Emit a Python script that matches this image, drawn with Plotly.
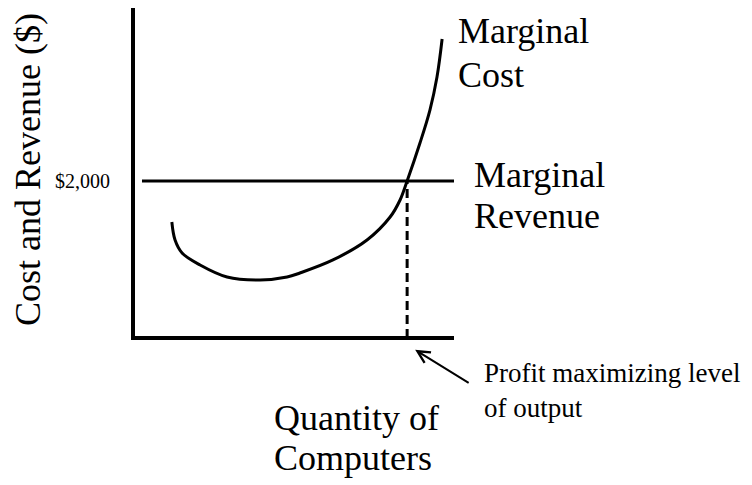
import plotly.graph_objects as go

# marginal cost curve (quantity, $)
mc_quantity = [12.1, 13.1, 15.3, 20.9, 29.3, 39.6, 48.0, 52.0, 62.3, 72.9,
               80.1, 83.2, 85.4, 89.4, 92.5, 94.7, 96.3]
mc_cost = [1478, 1248, 1083, 930, 777, 739, 777, 828, 994, 1248,
           1541, 1758, 2000, 2484, 2904, 3325, 3809]

# marginal revenue (flat price)
mr_quantity = [2.8, 100]
mr_price = [2000, 2000]

# profit maximizing output where MR = MC
q_star = 85.4
p_star = 2000

# axes of the sketch
axis_x = [0, 0, 100]
axis_y = [4217, 0, 0]

# the page body has an 8px margin, so the figure is drawn 8px smaller
OFF = 8
W, H = 752 - OFF, 485 - OFF
FONT = "Liberation Serif"

# pixel <-> data mapping so the sketch sits where the original does
x0_px, x_scale = 133 - OFF, 3.21      # px of q=0, px per unit
y0_px, y_scale = 338 - OFF, 12.739    # px of $0, $ per px

x_range = [(0 - x0_px) / x_scale, (W - x0_px) / x_scale]
y_range = [(y0_px - H) * y_scale, y0_px * y_scale]


def px(x):
    return (x - OFF) / W


def py(y):
    return 1 - (y - OFF) / H


fig = go.Figure()

fig.add_trace(go.Scatter(x=axis_x, y=axis_y, mode="lines",
                         line=dict(color="black", width=4)))
fig.add_trace(go.Scatter(x=mr_quantity, y=mr_price, mode="lines",
                         line=dict(color="black", width=3)))
fig.add_trace(go.Scatter(x=mc_quantity, y=mc_cost, mode="lines",
                         line=dict(color="black", width=3, shape="spline", smoothing=1)))
fig.add_trace(go.Scatter(x=[q_star, q_star], y=[0, p_star], mode="lines",
                         line=dict(color="black", width=3, dash="9px,5px")))

big = dict(family=FONT, size=36, color="black")
labels = [
    ("Marginal", 456, 31),
    ("Cost", 456, 75),
    ("Marginal", 472, 175),
    ("Revenue", 472, 216),
    ("Quantity of", 272, 418),
    ("Computers", 272, 458),
]
for txt, lx, ly in labels:
    fig.add_annotation(text=txt, xref="paper", yref="paper", x=px(lx), y=py(ly),
                       xanchor="left", yanchor="middle", showarrow=False, font=big)

fig.add_annotation(text="Cost and Revenue ($)", xref="paper", yref="paper",
                   x=px(28), y=py(170), textangle=-90, showarrow=False,
                   xanchor="center", yanchor="middle", font=big)

fig.add_annotation(text="$2,000", xref="paper", yref="y", x=px(112), y=p_star,
                   xanchor="right", yanchor="middle", showarrow=False,
                   font=dict(family=FONT, size=20, color="black"))

# arrow pointing at the profit maximizing quantity
fig.add_annotation(text="", x=q_star + 2.5, y=-150, ax=55, ay=34,
                   showarrow=True, arrowhead=5, arrowsize=1.2, arrowwidth=2,
                   arrowcolor="black")
fig.add_annotation(text="Profit maximizing level<br>of output", xref="paper", yref="paper",
                   x=px(482), y=py(390), xanchor="left", yanchor="middle",
                   align="left", showarrow=False,
                   font=dict(family=FONT, size=27, color="black"))

fig.update_layout(
    width=W, height=H, margin=dict(l=0, r=0, t=0, b=0),
    paper_bgcolor="white", plot_bgcolor="white", showlegend=False,
    xaxis=dict(range=x_range, visible=False, fixedrange=True),
    yaxis=dict(range=y_range, visible=False, fixedrange=True),
)

fig.write_html("out.html")
